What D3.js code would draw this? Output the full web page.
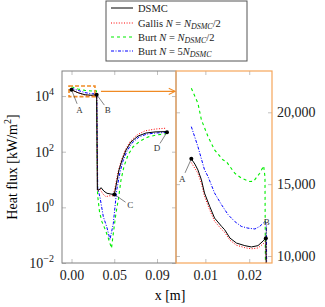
<html>
<head>
<meta charset="utf-8">
<script src="https://d3js.org/d3.v7.min.js"></script>
<style>
  body { margin: 0; background: #fff; }
</style>
</head>
<body>
<div id="chart"></div>
<script>

// left panel (full profile, log scale) : [x, heat flux kW/m2]
var leftDsmc = [[0,16760],[0.0068,13200],[0.0142,11100],[0.0216,10650],[0.0265,11240],[0.0272,4.2],
  [0.0289,4.2],[0.0311,5.1],[0.0342,3.8],[0.0374,3.2],[0.0416,3.0],[0.0451,2.9],[0.0468,5.8],[0.0500,22],
  [0.0532,50],[0.0574,115],[0.0626,223],[0.0700,365],[0.0784,468],[0.0879,513],[0.1005,530]];
var leftGallis = [[0,16500],[0.0068,13000],[0.0142,10900],[0.0216,10500],[0.0265,10900],[0.0274,4.0],
  [0.0300,4.5],[0.0332,3.0],[0.0363,2.4],[0.0395,2.6],[0.0437,2.6],[0.0458,5],[0.0489,18],[0.0521,45],
  [0.0563,110],[0.0616,230],[0.0689,400],[0.0774,560],[0.0879,650],[0.0995,700]];
var leftBurtHalf = [[0,21670],[0.0068,18000],[0.0142,16000],[0.0216,15200],[0.0247,16200],[0.0262,15300],
  [0.0272,30],[0.0275,2.75],[0.0295,0.68],[0.0321,0.30],[0.0353,0.165],[0.0384,0.085],[0.0421,0.034],
  [0.0442,0.13],[0.0468,0.62],[0.0495,2.1],[0.0521,9.6],[0.0553,30],[0.0595,76],[0.0647,148],[0.0721,240],
  [0.0805,340],[0.0900,400],[0.0995,440]];
var leftBurtFive = [[0,19000],[0.0068,16000],[0.0142,13300],[0.0216,12000],[0.0266,12400],[0.0276,4.9],
  [0.0300,2.3],[0.0335,0.46],[0.0371,0.2],[0.0405,0.07],[0.0440,0.26],[0.0458,1.05],[0.0476,4.2],
  [0.0511,18.6],[0.0542,46],[0.0584,105],[0.0637,205],[0.0711,340],[0.0795,430],[0.0889,470],[0.0995,490]];

// right panel (zoom on A-B, linear scale) : [x m, heat flux kW/m2]
var rightDsmc = [[0.0068,16760],[0.0076,16400],[0.0083,15990],[0.0091,15300],[0.0098,14380],[0.0110,13440],
  [0.0121,12640],[0.0137,12060],[0.0144,11830],[0.0156,11250],[0.0171,10900],[0.0190,10720],[0.0205,10630],
  [0.0220,10720],[0.0232,11050],[0.0236,11200],[0.0238,11240],[0.0239,9000]];
var rightGallis = [[0.0068,16500],[0.0083,15750],[0.0091,15050],[0.0098,14150],[0.0110,13200],[0.0121,12420],
  [0.0137,11850],[0.0144,11650],[0.0156,11100],[0.0171,10750],[0.0190,10580],[0.0205,10500],[0.0220,10560],
  [0.0232,10850],[0.0236,11000],[0.0238,10900],[0.0239,9000]];
var rightBurtHalf = [[0.0068,21670],[0.0083,20630],[0.0091,19470],[0.0106,18310],[0.0121,17380],[0.0140,16690],
  [0.0148,16570],[0.0167,15760],[0.0182,15420],[0.0201,15180],[0.0210,15200],[0.0224,15760],[0.0233,16270],
  [0.0236,15500],[0.0237,9000]];
var rightBurtFive = [[0.0068,19000],[0.0083,17610],[0.0098,16000],[0.0106,15530],[0.0121,14380],[0.0137,13560],
  [0.0152,12870],[0.0167,12400],[0.0182,12060],[0.0197,11940],[0.0213,11880],[0.0224,12060],[0.0236,12400],
  [0.0239,12200],[0.0240,9000]];

// marked points
var leftPoints = [{name:"A", p:[0,16760]}, {name:"B", p:[0.0265,11240]}, {name:"C", p:[0.0451,2.9]}, {name:"D", p:[0.1005,500]}];
var rightPoints = [{name:"A", p:[0.0068,16760]}, {name:"B", p:[0.0238,11240]}];

// ticks
var leftXTicks = [0, 0.045, 0.09];
var leftXLabels = ["0.00", "0.05", "0.09"];
var leftYTicks = [1e-2, 1, 1e2, 1e4];
var rightXTicks = [0.01, 0.02];
var rightYTicks = [10000, 15000, 20000];

var series = [
  {name: "DSMC", left: leftDsmc, right: rightDsmc, color: "#000", dash: null, w: 1},
  {name: "Gallis", left: leftGallis, right: rightGallis, color: "#ff0000", dash: "1,1.6", w: 1},
  {name: "BurtHalf", left: leftBurtHalf, right: rightBurtHalf, color: "#00ee00", dash: "3,3", w: 1.1},
  {name: "BurtFive", left: leftBurtFive, right: rightBurtFive, color: "#0000ff", dash: "3,1.5,1,1.5", w: 1}
];

var FONT = "Liberation Serif, Times New Roman, serif";
var W = 325, H = 307;
var svg = d3.select("#chart").append("svg").attr("width", W).attr("height", H)
  .attr("font-family", FONT);

var xL = d3.scaleLinear().domain([-0.01, 0.11]).range([62, 176]);
var yL = d3.scaleLog().domain([1e-2, Math.pow(10, 4.9)]).range([263, 71]);
var xR = d3.scaleLinear().domain([0.0033, 0.0252]).range([176, 272]);
var yR = d3.scaleLinear().domain([9513, 22874]).range([263, 71]);

var defs = svg.append("defs");
defs.append("clipPath").attr("id", "clipL").append("rect")
  .attr("x", 62).attr("y", 71).attr("width", 114).attr("height", 192);
defs.append("clipPath").attr("id", "clipR").append("rect")
  .attr("x", 176).attr("y", 71).attr("width", 96).attr("height", 192);
defs.append("marker").attr("id", "arr").attr("viewBox", "0 0 10 10")
  .attr("refX", 9).attr("refY", 5).attr("markerWidth", 6).attr("markerHeight", 6)
  .attr("orient", "auto")
  .append("path").attr("d", "M1,1 L9,5 L1,9").attr("fill", "none")
  .attr("stroke", "#f08a24").attr("stroke-width", 1.3);

function styleAxis(g) {
  g.attr("font-family", FONT);
  g.select(".domain").remove();
  g.selectAll(".tick line").attr("stroke", "#b0b0b0").attr("stroke-width", 0.8);
  g.selectAll(".tick text").attr("font-size", 14).attr("fill", "#222");
}

// left panel axes
svg.append("g").attr("transform", "translate(0,263)")
  .call(d3.axisBottom(xL).tickValues(leftXTicks).tickFormat(function(d, i) { return leftXLabels[i]; })
    .tickSizeInner(-4).tickSizeOuter(0).tickPadding(7))
  .call(styleAxis);
svg.append("g").attr("transform", "translate(0,71)")
  .call(d3.axisTop(xL).tickValues(leftXTicks).tickFormat("").tickSizeInner(-4).tickSizeOuter(0))
  .call(styleAxis);
var gyl = svg.append("g").attr("transform", "translate(62,0)")
  .call(d3.axisLeft(yL).tickValues(leftYTicks).tickSizeInner(-4).tickSizeOuter(0).tickPadding(8))
  .call(styleAxis);
gyl.selectAll(".tick text").each(function(d) {
  var e = Math.round(Math.log10(d));
  var t = d3.select(this).text("");
  t.append("tspan").text("10");
  t.append("tspan").attr("dy", -6).attr("font-size", 10).text(e < 0 ? "\u2212" + Math.abs(e) : e);
});
svg.append("g").attr("transform", "translate(176,0)")
  .call(d3.axisRight(yL).tickValues(leftYTicks).tickFormat("").tickSizeInner(-4).tickSizeOuter(0))
  .call(styleAxis);

// right panel axes
svg.append("g").attr("transform", "translate(0,263)")
  .call(d3.axisBottom(xR).tickValues(rightXTicks).tickFormat(d3.format(".2f"))
    .tickSizeInner(-4).tickSizeOuter(0).tickPadding(7))
  .call(styleAxis);
svg.append("g").attr("transform", "translate(0,71)")
  .call(d3.axisTop(xR).tickValues(rightXTicks).tickFormat("").tickSizeInner(-4).tickSizeOuter(0))
  .call(styleAxis);
svg.append("g").attr("transform", "translate(176,0)")
  .call(d3.axisLeft(yR).tickValues(rightYTicks).tickFormat("").tickSizeInner(-4).tickSizeOuter(0))
  .call(styleAxis);
svg.append("g").attr("transform", "translate(272,0)")
  .call(d3.axisRight(yR).tickValues(rightYTicks).tickFormat(d3.format(",")).tickSizeInner(-4).tickSizeOuter(0).tickPadding(5))
  .call(styleAxis);

// curves
var lineL = d3.line().x(function(d) { return xL(d[0]); }).y(function(d) { return yL(d[1]); });
var lineR = d3.line().x(function(d) { return xR(d[0]); }).y(function(d) { return yR(d[1]); });

var gL = svg.append("g").attr("clip-path", "url(#clipL)");
var gR = svg.append("g").attr("clip-path", "url(#clipR)");
// black drawn last so it sits on top
[series[2], series[3], series[1], series[0]].forEach(function(s) {
  gL.append("path").attr("d", lineL(s.left)).attr("fill", "none").attr("stroke", s.color)
    .attr("stroke-width", s.w).attr("stroke-dasharray", s.dash);
  gR.append("path").attr("d", lineR(s.right)).attr("fill", "none").attr("stroke", s.color)
    .attr("stroke-width", s.w).attr("stroke-dasharray", s.dash);
});

// frames
svg.append("rect").attr("x", 62).attr("y", 71).attr("width", 114).attr("height", 192)
  .attr("fill", "none").attr("stroke", "#808080").attr("stroke-width", 1);
svg.append("rect").attr("x", 176).attr("y", 71).attr("width", 96).attr("height", 192)
  .attr("fill", "none").attr("stroke", "#f6a65a").attr("stroke-width", 1.2);

// zoom box + arrow
var bx0 = xL(-0.0026), bx1 = xL(0.0247), by0 = yL(yR.domain()[1]), by1 = yL(yR.domain()[0]);
svg.append("rect").attr("x", bx0).attr("y", by0).attr("width", bx1 - bx0).attr("height", by1 - by0)
  .attr("fill", "none").attr("stroke", "#f08a24").attr("stroke-width", 1.6).attr("stroke-dasharray", "4,2");
var ay = (by0 + by1) / 2;
svg.append("line").attr("x1", xL(0.031)).attr("x2", 175).attr("y1", ay).attr("y2", ay)
  .attr("stroke", "#f08a24").attr("stroke-width", 1.3).attr("marker-end", "url(#arr)");

// point markers and labels
function drawPoints(pts, xs, ys, offs) {
  pts.forEach(function(d, i) {
    var px = xs(d.p[0]), py = ys(d.p[1]), o = offs[i];
    svg.append("line").attr("x1", px).attr("y1", py).attr("x2", px + o[0] * 0.7).attr("y2", py + o[1] * 0.7)
      .attr("stroke", "#333").attr("stroke-width", 0.6);
    svg.append("circle").attr("cx", px).attr("cy", py).attr("r", 2).attr("fill", "#000");
    svg.append("text").attr("x", px + o[0]).attr("y", py + o[1] + 3).attr("text-anchor", "middle")
      .attr("font-size", 9).attr("fill", "#333").text(d.name);
  });
}
drawPoints(leftPoints, xL, yL, [[8, 20], [11, 15], [16, 11], [-10, 16]]);
drawPoints(rightPoints, xR, yR, [[-9, 20], [1, -16]]);

// axis titles
svg.append("text").attr("x", 170).attr("y", 300).attr("text-anchor", "middle").attr("font-size", 14).text("x [m]");
var yt = svg.append("text").attr("transform", "translate(17,167) rotate(-90)").attr("text-anchor", "middle").attr("font-size", 14);
yt.append("tspan").text("Heat flux [kW/m");
yt.append("tspan").attr("dy", -6).attr("font-size", 10).text("2");
yt.append("tspan").attr("dy", 6).text("]");

// legend
var lg = svg.append("g");
lg.append("rect").attr("x", 106).attr("y", 1).attr("width", 141).attr("height", 60)
  .attr("fill", "#fff").attr("stroke", "#555").attr("stroke-width", 1);
var rows = [8, 23, 37, 51];
series.forEach(function(s, i) {
  lg.append("line").attr("x1", 111).attr("x2", 133).attr("y1", rows[i]).attr("y2", rows[i])
    .attr("stroke", s.color).attr("stroke-width", s.w).attr("stroke-dasharray", s.dash);
});
function legendText(y, parts) {
  var t = lg.append("text").attr("x", 138).attr("y", y + 3.5).attr("font-size", 10.5).attr("fill", "#222");
  parts.forEach(function(p) {
    var ts = t.append("tspan").text(p.t);
    if (p.i) ts.attr("font-style", "italic");
    if (p.dy) ts.attr("dy", p.dy);
    if (p.fs) ts.attr("font-size", p.fs);
  });
}
legendText(rows[0], [{t: "DSMC"}]);
legendText(rows[1], [{t: "Gallis "}, {t: "N", i: 1}, {t: " = "}, {t: "N", i: 1}, {t: "DSMC", i: 1, dy: 2.5, fs: 8}, {t: "/2", dy: -2.5}]);
legendText(rows[2], [{t: "Burt "}, {t: "N", i: 1}, {t: " = "}, {t: "N", i: 1}, {t: "DSMC", i: 1, dy: 2.5, fs: 8}, {t: "/2", dy: -2.5}]);
legendText(rows[3], [{t: "Burt "}, {t: "N", i: 1}, {t: " = 5"}, {t: "N", i: 1}, {t: "DSMC", i: 1, dy: 2.5, fs: 8}]);

</script>
</body>
</html>
